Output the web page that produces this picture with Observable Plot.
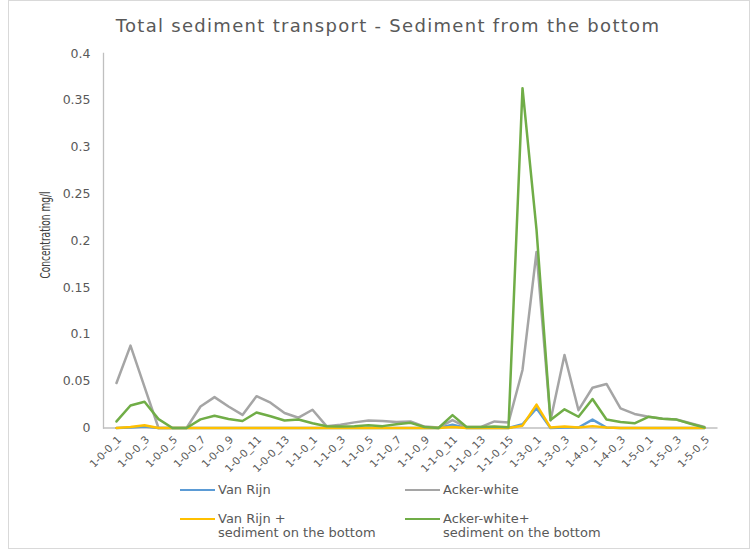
<!DOCTYPE html>
<html>
<head>
<meta charset="utf-8">
<script src="https://cdn.jsdelivr.net/npm/d3@7"></script>
<script src="https://cdn.jsdelivr.net/npm/@observablehq/plot@0.6"></script>
<style>
  html, body { margin: 0; padding: 0; background: #fff; }
  #wrap { position: relative; width: 754px; height: 552px; overflow: hidden; font-family: "DejaVu Sans", sans-serif; color: #595959; }
  #border { position: absolute; left: 8px; top: 0px; width: 742px; height: 549px; border: 1px solid #d9d9d9; box-sizing: border-box; }
  #title { position: absolute; left: 0; width: 776px; top: 15px; text-align: center; font-size: 18px; letter-spacing: 1.3px; }
  #chart { position: absolute; left: 0; top: 40px; }
  #ytitle { position: absolute; left: 45px; top: 235px; transform: translate(-50%, -50%) rotate(-90deg) scaleX(0.72); white-space: nowrap; font-family: "DejaVu Sans Condensed", "DejaVu Sans", sans-serif; font-stretch: condensed; font-size: 14px; color: #404040; }
  .leg { position: absolute; font-size: 13px; line-height: 14.5px; white-space: nowrap; }
  .sw { position: absolute; width: 35px; height: 2.5px; }
</style>
</head>
<body>
<div id="wrap">
  <div id="border"></div>
  <div id="title">Total sediment transport - Sediment from the bottom</div>
  <div id="chart"></div>
  <div id="ytitle">Concentration mg/l</div>
  <div id="legend"></div>
</div>
<script>
const categories = [
  "1-0-0_1","1-0-0_2","1-0-0_3","1-0-0_4","1-0-0_5","1-0-0_6","1-0-0_7","1-0-0_8","1-0-0_9","1-0-0_10",
  "1-0-0_11","1-0-0_12","1-0-0_13","1-0-0_14",
  "1-1-0_1","1-1-0_2","1-1-0_3","1-1-0_4","1-1-0_5","1-1-0_6","1-1-0_7","1-1-0_8","1-1-0_9","1-1-0_10",
  "1-1-0_11","1-1-0_12","1-1-0_13","1-1-0_14","1-1-0_15","1-1-0_16",
  "1-3-0_1","1-3-0_2","1-3-0_3","1-3-0_4",
  "1-4-0_1","1-4-0_2","1-4-0_3","1-4-0_4",
  "1-5-0_1","1-5-0_2","1-5-0_3","1-5-0_4","1-5-0_5"
];
const xLabels = [
  "1-0-0_1","1-0-0_3","1-0-0_5","1-0-0_7","1-0-0_9","1-0-0_11","1-0-0_13",
  "1-1-0_1","1-1-0_3","1-1-0_5","1-1-0_7","1-1-0_9","1-1-0_11","1-1-0_13","1-1-0_15",
  "1-3-0_1","1-3-0_3","1-4-0_1","1-4-0_3","1-5-0_1","1-5-0_3","1-5-0_5"
];
const yTicks = [0, 0.05, 0.1, 0.15, 0.2, 0.25, 0.3, 0.35, 0.4];

const seriesNames = ["Van Rijn", "Acker-white", "Van Rijn + sediment on the bottom", "Acker-white+ sediment on the bottom"];
const seriesColors = ["#5B9BD5", "#A5A5A5", "#FFC000", "#70AD47"];

const vanRijn = [
  0, 0.0005, 0.0015, 0, 0, 0, 0, 0, 0, 0,
  0, 0, 0, 0,
  0, 0, 0, 0, 0, 0, 0, 0, 0, 0,
  0.0035, 0, 0, 0, 0, 0.004,
  0.021, 0, 0.0005, 0.0005,
  0.009, 0.0005, 0, 0,
  0, 0, 0, 0, 0
];
const ackerWhite = [
  0.048, 0.088, 0.044, 0, 0, 0, 0.023, 0.033, 0.023, 0.014,
  0.034, 0.027, 0.016, 0.011,
  0.0195, 0.002, 0.0035, 0.006, 0.008, 0.0075, 0.0065, 0.007, 0.0015, 0.0005,
  0.0085, 0.001, 0.001, 0.007, 0.006, 0.062,
  0.188, 0.008, 0.078, 0.019,
  0.043, 0.047, 0.021, 0.015,
  0.012, 0.010, 0.009, 0.005, 0.001
];
const vanRijnBottom = [
  0, 0.001, 0.003, 0, 0, 0, 0, 0, 0, 0,
  0, 0, 0, 0,
  0, 0, 0, 0, 0, 0, 0, 0, 0, 0,
  0.001, 0, 0, 0, 0, 0.0025,
  0.025, 0.0005, 0.0015, 0.0005,
  0.002, 0.0005, 0, 0,
  0, 0, 0, 0, 0
];
const ackerWhiteBottom = [
  0.007, 0.024, 0.028, 0.0095, 0, 0, 0.0092, 0.013, 0.0096, 0.0075,
  0.0165, 0.0125, 0.008, 0.009,
  0.005, 0.0018, 0.0015, 0.002, 0.003, 0.002, 0.004, 0.0055, 0.001, 0,
  0.0138, 0.001, 0.001, 0.0015, 0.0007, 0.363,
  0.212, 0.0085, 0.020, 0.012,
  0.031, 0.009, 0.0065, 0.005,
  0.012, 0.010, 0.009, 0.0045, 0.0005
];

const seriesValues = [vanRijn, ackerWhite, vanRijnBottom, ackerWhiteBottom];
const data = [];
seriesNames.forEach((s, si) => {
  categories.forEach((c, i) => data.push({series: s, cat: c, value: seriesValues[si][i]}));
});

const chart = Plot.plot({
  width: 754,
  height: 440,
  marginLeft: 103,
  marginRight: 36.5,
  marginTop: 13,
  marginBottom: 52.5,
  style: {fontFamily: "DejaVu Sans, sans-serif", color: "#595959", background: "transparent", overflow: "visible"},
  x: {type: "point", domain: categories, padding: 0.5},
  y: {domain: [0, 0.4]},
  color: {domain: seriesNames, range: seriesColors},
  marks: [
    Plot.axisY({ticks: yTicks, tickSize: 0, tickPadding: 13, fontSize: 12.5, label: null,
      tickFormat: d => d === 0 ? "0" : String(+d.toFixed(2))}),
    Plot.axisX({ticks: xLabels, tickSize: 0, tickPadding: 10, dx: 3, tickRotate: -45, fontSize: 10.5, label: null}),
    Plot.frame({anchor: "left", stroke: "#bfbfbf", strokeWidth: 1.3}),
    Plot.ruleY([0], {stroke: "#bfbfbf", strokeWidth: 1.3}),
    Plot.line(data, {x: "cat", y: "value", z: "series", stroke: "series", strokeWidth: 2.5})
  ]
});
document.getElementById("chart").appendChild(chart);

// legend
const legend = document.getElementById("legend");
const legItems = [
  {i: 0, x: 180, y: 490, lines: ["Van Rijn"]},
  {i: 1, x: 405, y: 490, lines: ["Acker-white"]},
  {i: 2, x: 180, y: 519, lines: ["Van Rijn +", "sediment on the bottom"]},
  {i: 3, x: 405, y: 519, lines: ["Acker-white+", "sediment on the bottom"]}
];
legItems.forEach(it => {
  const sw = document.createElement("div");
  sw.className = "sw";
  sw.style.left = it.x + "px";
  sw.style.top = (it.y - 1.25) + "px";
  sw.style.background = seriesColors[it.i];
  legend.appendChild(sw);
  const t = document.createElement("div");
  t.className = "leg";
  t.style.left = (it.x + 38) + "px";
  t.style.top = (it.y - 7.5) + "px";
  t.innerHTML = it.lines.join("<br>");
  legend.appendChild(t);
});
</script>
</body>
</html>
